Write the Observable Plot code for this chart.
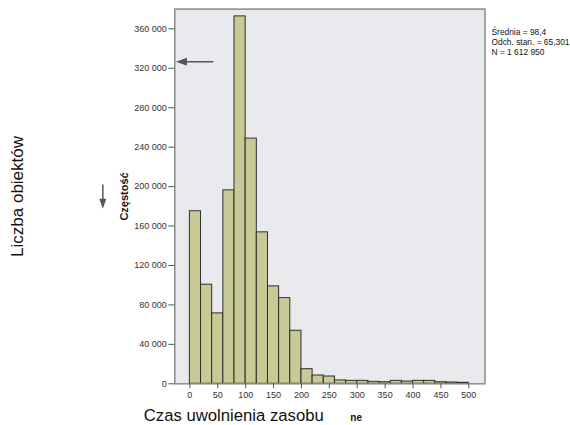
<!DOCTYPE html>
<html>
<head>
<meta charset="utf-8">
<script src="https://cdn.jsdelivr.net/npm/d3@7"></script>
<script src="https://cdn.jsdelivr.net/npm/@observablehq/plot@0.6"></script>
<style>
  html, body { margin: 0; padding: 0; background: #ffffff; }
  #chart svg { display: block; }
</style>
</head>
<body>
<div id="chart"></div>
<script>
// Histogram of resource release time (bins of width 20)
const binStart = [0, 20, 40, 60, 80, 100, 120, 140, 160, 180, 200, 220, 240,
                  260, 280, 300, 320, 340, 360, 380, 400, 420, 440, 460, 480];
const binWidth = 20;
const counts = [175000, 100500, 71400, 196200, 372600, 248700, 153600, 98800,
                86900, 53800, 14800, 8400, 7400, 3400, 3000, 3000, 2000, 1600,
                3000, 2300, 3000, 3000, 1600, 1300, 1000];

const xTicks = [0, 50, 100, 150, 200, 250, 300, 350, 400, 450, 500];
const yTicks = [0, 40000, 80000, 120000, 160000, 200000, 240000, 280000, 320000, 360000];

const statsLines = ["Średnia = 98,4", "Odch. stan. = 65,301", "N = 1 612 950"];
const yTitle = "Częstość";
const sideTitle = "Liczba obiektów";
const xTitle = "Czas uwolnienia zasobu";
const xTitleTail = "ne";

const bins = binStart.map((b, i) => ({x0: b, x1: b + binWidth, count: counts[i]}));
const fmt = d => d3.format(",")(d).replace(/,/g, " ");

// filled arrowheads; tip at the origin
const headLeft = {draw(ctx) { ctx.moveTo(0, 0); ctx.lineTo(11, -4); ctx.lineTo(11, 4); ctx.closePath(); }};
const headDown = {draw(ctx) { ctx.moveTo(0, 0); ctx.lineTo(-3.5, -10); ctx.lineTo(3.5, -10); ctx.closePath(); }};

// annotation arrows, in data units
const arrowIn = {x1: 42, x2: -25, y: 326600};
const arrowOut = {x: -156, y1: 202000, y2: 186000, tip: 177500};

const arrowColor = "#555555";

const chart = Plot.plot({
  width: 570,
  height: 425,
  marginLeft: 174.3,
  marginRight: 85.5,
  marginTop: 8.6,
  marginBottom: 41.7,
  style: {fontFamily: "'Liberation Sans', Arial, sans-serif", fontSize: "9px", color: "#333", background: "#ffffff", overflow: "visible"},
  x: {domain: [-27, 529]},
  y: {domain: [0, 380000]},
  marks: [
    Plot.frame({fill: "#e9eaee", stroke: "none"}),
    Plot.rect(bins, {x1: "x0", x2: "x1", y1: 0, y2: "count", fill: "#c9c996", stroke: "#2e2e2e", strokeWidth: 1, inset: 0}),
    Plot.frame({stroke: "#8a8a8a", strokeWidth: 1.5}),
    Plot.axisX({ticks: xTicks, tickSize: 5, tickPadding: 3, label: null, stroke: "#555", fill: "#333"}),
    Plot.axisY({ticks: yTicks, tickSize: 6, tickPadding: 2, tickFormat: fmt, label: null, stroke: "#555", fill: "#333"}),
    // arrow inside the plot area
    Plot.link([arrowIn], {x1: "x1", x2: d => d.x2 + 8, y1: "y", y2: "y", stroke: arrowColor, strokeWidth: 1.5}),
    Plot.dot([arrowIn], {x: "x2", y: "y", symbol: headLeft, fill: arrowColor, stroke: "none"}),
    // arrow next to the axis title
    Plot.link([arrowOut], {x1: "x", x2: "x", y1: "y1", y2: "y2", stroke: arrowColor, strokeWidth: 1.5}),
    Plot.dot([arrowOut], {x: "x", y: "tip", symbol: headDown, fill: arrowColor, stroke: "none"}),
    // axis titles
    Plot.text([yTitle], {frameAnchor: "left", dx: -50, rotate: -90, text: d => d, fontWeight: "bold", fontSize: 11, fill: "#111", textAnchor: "middle", lineAnchor: "middle"}),
    Plot.text([sideTitle], {frameAnchor: "left", dx: -157, rotate: -90, text: d => d, fontSize: 17, fill: "#111", textAnchor: "middle", lineAnchor: "middle"}),
    Plot.text([xTitle], {frameAnchor: "bottom-left", dx: -31, dy: 37.5, text: d => d, fontSize: 16.7, fill: "#111", textAnchor: "start", lineAnchor: "bottom"}),
    Plot.text([xTitleTail], {frameAnchor: "bottom-left", dx: 175.5, dy: 37, text: d => d, fontSize: 10, fontWeight: "bold", fill: "#111", textAnchor: "start", lineAnchor: "bottom"}),
    // summary statistics
    Plot.text([statsLines.join("\n")], {frameAnchor: "top-right", dx: 6.5, dy: 19.5, text: d => d, fontSize: 8.4, fill: "#111", textAnchor: "start", lineAnchor: "top", lineHeight: 1.15})
  ]
});

document.getElementById("chart").append(chart);
</script>
</body>
</html>
